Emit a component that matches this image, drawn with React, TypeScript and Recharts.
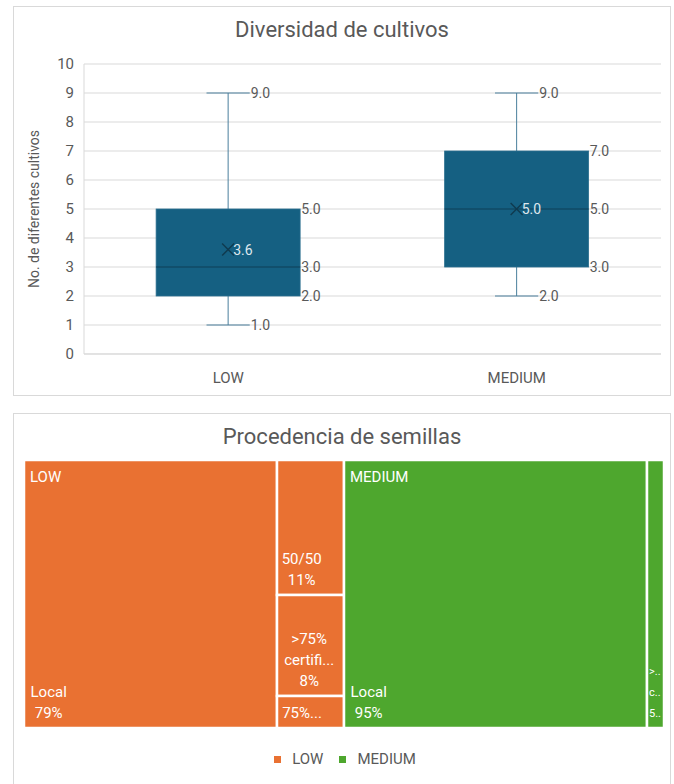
import React from 'react';
import { ComposedChart, Bar, XAxis, YAxis, CartesianGrid, Treemap } from 'recharts';

// Diversidad de cultivos (box plot)
const categories = ['LOW', 'MEDIUM'];
const minimos = [1, 2];
const cuartil1 = [2, 3];
const medianas = [3, 5];
const cuartil3 = [5, 7];
const maximos = [9, 9];
const medias = [3.6, 5.0];
const yTicks = [0, 1, 2, 3, 4, 5, 6, 7, 8, 9, 10];

// Procedencia de semillas (treemap), counts per origin
const lowNames = ['Local', '50/50', '>75% certificada', '75% local'];
const lowValues = [30, 4, 3, 1];
const mediumNames = ['Local', '>75% certificada'];
const mediumValues = [36, 2];

const groupColors: Record<string, string> = { LOW: '#E97132', MEDIUM: '#4EA72E' };
const BOX = '#156082';
const TEXT = '#595959';
const GRID = '#d9d9d9';
const FONT = 'Roboto, sans-serif';

const boxData = categories.map((name, i) => ({
  name,
  min: minimos[i],
  q1: cuartil1[i],
  median: medianas[i],
  q3: cuartil3[i],
  max: maximos[i],
  mean: medias[i],
  range: [minimos[i], maximos[i]],
}));

const makeGroup = (group: string, names: string[], values: number[]) => {
  const total = values.reduce((a, b) => a + b, 0);
  return {
    name: group,
    children: names.map((n, i) => ({
      name: n,
      size: values[i],
      group,
      pct: Math.round((values[i] / total) * 100) + '%',
    })),
  };
};

const treeData = [
  makeGroup('LOW', lowNames, lowValues),
  makeGroup('MEDIUM', mediumNames, mediumValues),
];

function BoxShape(props: any) {
  const { x, y, width, height, payload } = props;
  const { min, q1, median, q3, max, mean } = payload;
  const toY = (v: number) => y + (height * (max - v)) / (max - min);
  const cx = x + width / 2;
  const cap = width * 0.15;
  const m = 6;
  const lbl = { fontSize: 14, fill: TEXT, dominantBaseline: 'central' as const };
  return (
    <g>
      <line x1={cx} x2={cx} y1={toY(max)} y2={toY(q3)} stroke="#4a7f9c" />
      <line x1={cx} x2={cx} y1={toY(q1)} y2={toY(min)} stroke="#4a7f9c" />
      <line x1={cx - cap} x2={cx + cap} y1={toY(max)} y2={toY(max)} stroke="#4a7f9c" />
      <line x1={cx - cap} x2={cx + cap} y1={toY(min)} y2={toY(min)} stroke="#4a7f9c" />
      <rect x={x} y={toY(q3)} width={width} height={toY(q1) - toY(q3)} fill={BOX} stroke="#2b6f8f" strokeWidth={0.8} />
      <line x1={x} x2={x + width} y1={toY(median)} y2={toY(median)} stroke="#0f3f56" />
      <line x1={cx - m} x2={cx + m} y1={toY(mean) - m} y2={toY(mean) + m} stroke="#0f3a4f" strokeWidth={1.4} />
      <line x1={cx - m} x2={cx + m} y1={toY(mean) + m} y2={toY(mean) - m} stroke="#0f3a4f" strokeWidth={1.4} />
      <text x={cx + cap + 1} y={toY(max)} {...lbl}>{max.toFixed(1)}</text>
      <text x={cx + cap + 1} y={toY(min)} {...lbl}>{min.toFixed(1)}</text>
      <text x={x + width + 1} y={toY(q3)} {...lbl}>{q3.toFixed(1)}</text>
      <text x={x + width + 1} y={toY(q1)} {...lbl}>{q1.toFixed(1)}</text>
      <text x={x + width + 1} y={toY(median)} {...lbl}>{median.toFixed(1)}</text>
      <text x={cx + 5} y={toY(mean)} {...lbl} fill="#dfe8ee">{mean.toFixed(1)}</text>
    </g>
  );
}

const CHAR_W = 7.4;

// rough text width at 15px
const textWidth = (s: string) =>
  s.split('').reduce((w, ch) => w + ('.il tfr/'.includes(ch) ? 4.5 : 8.2), 0);

function cellLines(name: string, pct: string, width: number, height: number) {
  const maxChars = Math.floor((width - 12) / CHAR_W);
  if (maxChars < 2) {
    // very narrow cell: keep only the first character of each line
    return [...name.split(' '), pct].map((s) => s.slice(0, 1) + '..');
  }
  const fit = (s: string) => (s.length <= maxChars ? s : s.slice(0, maxChars) + '...');
  const lines: string[] = [];
  let cur = '';
  name.split(' ').forEach((w) => {
    const t = cur ? cur + ' ' + w : w;
    if (t.length <= maxChars) cur = t;
    else {
      if (cur) lines.push(cur);
      cur = w;
    }
  });
  if (cur) lines.push(cur);
  let all = [...lines, pct].map(fit);
  const maxLines = Math.max(1, Math.floor((height - 10) / 21));
  if (all.length > maxLines) {
    all = all.slice(0, maxLines);
    const last = all[maxLines - 1];
    if (!last.endsWith('...')) all[maxLines - 1] = last + '...';
  }
  return all;
}

function TreemapCell(props: any) {
  const { x, y, width, height, depth, name, index, group, pct } = props;
  if (depth !== 2 || !group) return null;
  const fill = groupColors[group];
  const lines = cellLines(name, pct, width, height);
  const narrow = width < 30;
  const blockW = Math.max(...lines.map(textWidth));
  const tx = narrow ? x + 2 : x + 6 + blockW / 2;
  return (
    <g>
      <rect x={x} y={y} width={width} height={height} fill={fill} stroke="#ffffff" strokeWidth={2.5} />
      {index === 0 && (
        <text x={x + 6} y={y + 17} fill="#ffffff" fontSize={15} dominantBaseline="central">
          {group}
        </text>
      )}
      {lines.map((l, i) => (
        <text
          key={i}
          x={tx}
          y={y + height - 15 - (lines.length - 1 - i) * 21}
          fill="#ffffff"
          fontSize={narrow ? 11 : 15}
          textAnchor={narrow ? 'start' : 'middle'}
          dominantBaseline="central"
        >
          {l}
        </text>
      ))}
    </g>
  );
}

const card: React.CSSProperties = {
  position: 'absolute',
  left: 13,
  width: 658,
  border: `1px solid ${GRID}`,
  boxSizing: 'border-box',
  background: '#fff',
};

const titleStyle: React.CSSProperties = {
  position: 'absolute',
  left: 0,
  right: 0,
  top: 11,
  textAlign: 'center',
  fontSize: 22,
  lineHeight: '24px',
  color: TEXT,
};

export default function App() {
  return (
    <div
      style={{
        position: 'absolute',
        left: 0,
        top: 0,
        width: 674,
        height: 784,
        overflow: 'hidden',
        background: '#fff',
        fontFamily: FONT,
      }}
    >
      <div style={{ ...card, top: 6, height: 390 }}>
        <div style={titleStyle}>Diversidad de cultivos</div>
        <div style={{ position: 'absolute', left: 0, top: 0 }}>
          <ComposedChart
            width={656}
            height={388}
            data={boxData}
            margin={{ top: 57, right: 9, left: 0, bottom: 0 }}
            barCategoryGap="25%"
          >
            <CartesianGrid vertical={false} stroke={GRID} />
            <XAxis
              dataKey="name"
              height={41}
              tickLine={false}
              tickSize={0}
              tickMargin={18}
              axisLine={{ stroke: GRID }}
              tick={{ fill: TEXT, fontSize: 15 }}
            />
            <YAxis
              width={70}
              domain={[0, 10]}
              ticks={yTicks}
              interval={0}
              tickLine={false}
              tickMargin={4}
              axisLine={{ stroke: GRID }}
              tick={{ fill: TEXT, fontSize: 15 }}
              label={{
                value: 'No. de diferentes cultivos',
                angle: -90,
                position: 'insideLeft',
                offset: 20,
                style: { textAnchor: 'middle', fill: TEXT, fontSize: 14 },
              }}
            />
            <Bar dataKey="range" shape={<BoxShape />} isAnimationActive={false} />
          </ComposedChart>
        </div>
      </div>

      <div style={{ ...card, top: 413, height: 380 }}>
        <div style={titleStyle}>Procedencia de semillas</div>
        <div style={{ position: 'absolute', left: 10, top: 46 }}>
          <Treemap
            width={640}
            height={268}
            data={treeData}
            dataKey="size"
            content={<TreemapCell />}
            isAnimationActive={false}
          />
        </div>
        <div
          style={{
            position: 'absolute',
            left: 0,
            right: 0,
            top: 336,
            display: 'flex',
            justifyContent: 'center',
            alignItems: 'center',
            gap: 16,
            fontSize: 15,
            lineHeight: '18px',
            color: TEXT,
            paddingLeft: 6,
          }}
        >
          {categories.map((c) => (
            <div key={c} style={{ display: 'flex', alignItems: 'center', gap: 11 }}>
              <span style={{ width: 7, height: 7, background: groupColors[c], display: 'inline-block' }} />
              <span>{c}</span>
            </div>
          ))}
        </div>
      </div>
    </div>
  );
}
